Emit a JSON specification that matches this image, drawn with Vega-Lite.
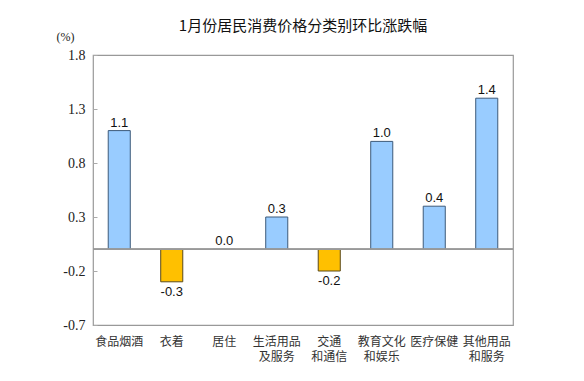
{
  "$schema": "https://vega.github.io/schema/vega-lite/v6.json",
  "autosize": "none",
  "width": 420,
  "height": 270,
  "padding": {"left": 93, "top": 55, "right": 71, "bottom": 56},
  "background": "white",
  "title": {
    "text": "1月份居民消费价格分类别环比涨跌幅",
    "font": "Noto Sans CJK SC",
    "fontSize": 15,
    "fontWeight": "normal",
    "color": "#111111",
    "anchor": "middle",
    "offset": -4
  },
  "config": {
    "view": {"stroke": "#999999", "strokeWidth": 1.2}
  },
  "data": {
    "values": [
      {"category": "食品烟酒", "value": 1.1},
      {"category": "衣着", "value": -0.3},
      {"category": "居住", "value": 0.0},
      {"category": "生活用品|及服务", "value": 0.3},
      {"category": "交通|和通信", "value": -0.2},
      {"category": "教育文化|和娱乐", "value": 1.0},
      {"category": "医疗保健", "value": 0.4},
      {"category": "其他用品|和服务", "value": 1.4}
    ]
  },
  "encoding": {
    "x": {
      "field": "category",
      "type": "nominal",
      "sort": null,
      "scale": {"paddingInner": 0.58, "paddingOuter": 0.29},
      "axis": {
        "title": null,
        "orient": "bottom",
        "domain": false,
        "ticks": false,
        "labelAngle": 0,
        "labelExpr": "split(datum.value, '|')",
        "labelFont": "Noto Sans CJK SC",
        "labelFontSize": 12,
        "labelColor": "#333333",
        "labelPadding": 11,
        "labelLineHeight": 15
      }
    }
  },
  "layer": [
    {
      "mark": {"type": "bar", "strokeWidth": 1},
      "encoding": {
        "y": {
          "field": "value",
          "type": "quantitative",
          "scale": {"domain": [-0.7, 1.8], "nice": false, "zero": false},
          "axis": {
            "values": [-0.7, -0.2, 0.3, 0.8, 1.3, 1.8],
            "labelExpr": "replace(format(datum.value, '.1f'), '\u2212', '-')",
            "grid": false,
            "domain": false,
            "ticks": true,
            "tickSize": -4,
            "tickColor": "#aaaaaa",
            "labelFont": "Liberation Serif, Times New Roman, serif",
            "labelFontSize": 14,
            "labelColor": "#222222",
            "labelPadding": 12,
            "title": "(%)",
            "titleAngle": 0,
            "titleFont": "Liberation Serif, Times New Roman, serif",
            "titleFontSize": 12,
            "titleFontWeight": "normal",
            "titleColor": "#222222",
            "titleX": -28,
            "titleY": -12,
            "titleAlign": "center"
          }
        },
        "y2": {"datum": 0},
        "color": {
          "condition": {"test": "datum.value < 0", "value": "#FFC000"},
          "value": "#99CCFF"
        },
        "stroke": {
          "condition": {"test": "datum.value < 0", "value": "#5a4a1a"},
          "value": "#3d5a7a"
        }
      }
    },
    {
      "mark": {"type": "rule", "color": "#999999", "strokeWidth": 1.2},
      "encoding": {"y": {"datum": 0}, "x": null}
    },
    {
      "transform": [{"filter": "datum.value >= 0"}],
      "mark": {"type": "text", "baseline": "bottom", "dy": -1, "font": "Liberation Sans", "fontSize": 13, "color": "#111111",
        "text": {"expr": "replace(format(datum.value, '.1f'), '\u2212', '-')"}},
      "encoding": {
        "y": {"field": "value", "type": "quantitative"}
      }
    },
    {
      "transform": [{"filter": "datum.value < 0"}],
      "mark": {"type": "text", "baseline": "top", "dy": 4, "font": "Liberation Sans", "fontSize": 13, "color": "#111111",
        "text": {"expr": "replace(format(datum.value, '.1f'), '\u2212', '-')"}},
      "encoding": {
        "y": {"field": "value", "type": "quantitative"}
      }
    }
  ]
}
